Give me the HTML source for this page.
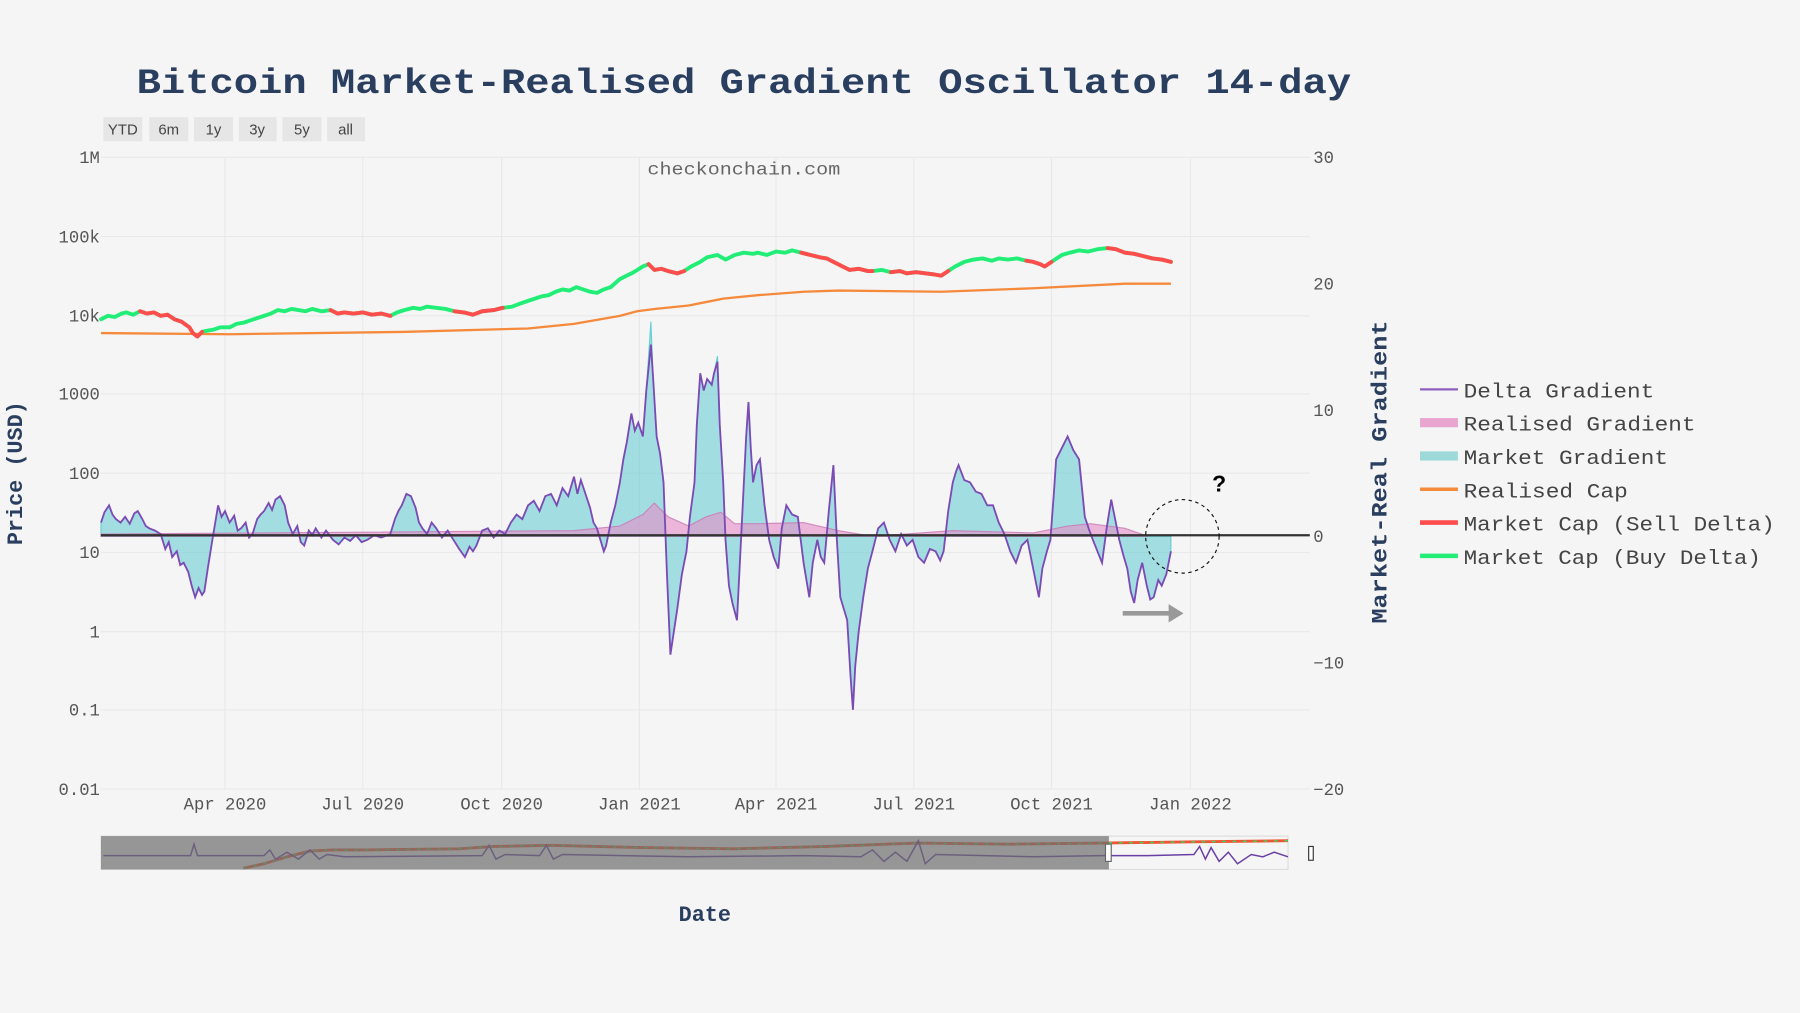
<!DOCTYPE html>
<html><head><meta charset="utf-8"><style>
html,body{margin:0;padding:0;background:#f5f5f5;overflow:hidden}
svg{display:block}
text{font-family:"Liberation Mono",monospace}
</style></head><body>
<svg width="1800" height="1013" viewBox="0 0 1568 882" preserveAspectRatio="none" xmlns="http://www.w3.org/2000/svg">
<rect width="1568" height="882" fill="#f5f5f5"/>
<g stroke="#e9e9e9" stroke-width="1">
<line x1="88" x2="1141" y1="137" y2="137"/><line x1="88" x2="1141" y1="206" y2="206"/><line x1="88" x2="1141" y1="275" y2="275"/><line x1="88" x2="1141" y1="343" y2="343"/><line x1="88" x2="1141" y1="412" y2="412"/><line x1="88" x2="1141" y1="481" y2="481"/><line x1="88" x2="1141" y1="550" y2="550"/><line x1="88" x2="1141" y1="618" y2="618"/><line x1="88" x2="1141" y1="687" y2="687"/>
<line x1="196" x2="196" y1="137" y2="687"/><line x1="316" x2="316" y1="137" y2="687"/><line x1="437" x2="437" y1="137" y2="687"/><line x1="557" x2="557" y1="137" y2="687"/><line x1="676" x2="676" y1="137" y2="687"/><line x1="796" x2="796" y1="137" y2="687"/><line x1="916" x2="916" y1="137" y2="687"/><line x1="1037" x2="1037" y1="137" y2="687"/>
</g>
<text x="648" y="81" text-anchor="middle" font-size="31" font-weight="bold" fill="#2a3f5f" textLength="1058" lengthAdjust="spacingAndGlyphs">Bitcoin Market-Realised Gradient Oscillator 14-day</text>
<g font-size="13" fill="#444">
<rect x="90" y="102" width="34" height="21" fill="#e6e6e6"/><text x="107" y="117" text-anchor="middle" style="font-family:'Liberation Sans',sans-serif">YTD</text>
<rect x="130" y="102" width="34" height="21" fill="#e6e6e6"/><text x="147" y="117" text-anchor="middle" style="font-family:'Liberation Sans',sans-serif">6m</text>
<rect x="169" y="102" width="34" height="21" fill="#e6e6e6"/><text x="186" y="117" text-anchor="middle" style="font-family:'Liberation Sans',sans-serif">1y</text>
<rect x="208" y="102" width="33" height="21" fill="#e6e6e6"/><text x="224" y="117" text-anchor="middle" style="font-family:'Liberation Sans',sans-serif">3y</text>
<rect x="246" y="102" width="34" height="21" fill="#e6e6e6"/><text x="263" y="117" text-anchor="middle" style="font-family:'Liberation Sans',sans-serif">5y</text>
<rect x="285" y="102" width="33" height="21" fill="#e6e6e6"/><text x="301" y="117" text-anchor="middle" style="font-family:'Liberation Sans',sans-serif">all</text>
</g>
<text x="648" y="152" text-anchor="middle" font-size="15" fill="#666" textLength="168" lengthAdjust="spacingAndGlyphs">checkonchain.com</text>
<g font-size="15" fill="#555" text-anchor="end">
<text x="87" y="142">1M</text><text x="87" y="211">100k</text><text x="87" y="280">10k</text><text x="87" y="348">1000</text><text x="87" y="417">100</text><text x="87" y="486">10</text><text x="87" y="555">1</text><text x="87" y="623">0.1</text><text x="87" y="692">0.01</text>
</g>
<g font-size="15" fill="#555">
<text x="1144" y="142">30</text><text x="1144" y="252">20</text><text x="1144" y="362">10</text><text x="1144" y="472">0</text><text x="1144" y="582">−10</text><text x="1144" y="692">−20</text>
</g>
<g font-size="15" fill="#555" text-anchor="middle">
<text x="196" y="705">Apr 2020</text><text x="316" y="705">Jul 2020</text><text x="437" y="705">Oct 2020</text><text x="557" y="705">Jan 2021</text><text x="676" y="705">Apr 2021</text><text x="796" y="705">Jul 2021</text><text x="916" y="705">Oct 2021</text><text x="1037" y="705">Jan 2022</text>
</g>
<path fill="rgba(80,200,205,0.5)" stroke="rgba(80,200,205,0.8)" stroke-width="1" d="M88,467 L88,455 L91,446 L95,440 L98,448 L101,452 L105,455 L109,450 L113,456 L117,447 L120,445 L124,452 L127,458 L130,460 L135,462 L140,465 L144,478 L147,472 L150,485 L154,480 L157,492 L160,490 L164,498 L167,510 L170,520 L173,512 L176,518 L178,515 L181,495 L185,470 L188,452 L190,440 L193,450 L196,445 L200,455 L204,449 L207,462 L210,460 L214,455 L217,468 L220,465 L224,452 L227,448 L230,445 L234,438 L237,444 L240,435 L244,432 L248,440 L251,455 L255,465 L259,458 L262,472 L265,475 L269,462 L272,466 L275,460 L280,468 L284,462 L290,470 L295,474 L300,468 L305,471 L310,466 L315,472 L320,470 L326,466 L332,468 L340,465 L344,452 L347,445 L350,440 L354,430 L358,432 L362,442 L365,455 L368,460 L372,465 L376,455 L380,460 L385,468 L390,462 L395,470 L400,478 L405,485 L409,476 L412,480 L415,475 L420,462 L425,460 L430,468 L435,462 L440,465 L445,455 L450,448 L455,452 L460,440 L465,436 L470,445 L475,432 L480,430 L485,440 L490,425 L495,432 L500,415 L503,430 L506,418 L510,430 L514,442 L517,455 L520,460 L523,470 L526,480 L528,475 L532,455 L536,440 L540,420 L543,400 L546,385 L550,360 L553,375 L556,368 L560,380 L563,340 L567,280 L569,330 L572,380 L575,395 L578,420 L581,500 L584,570 L587,550 L590,530 L594,500 L598,480 L601,450 L605,420 L607,370 L610,325 L613,340 L616,330 L620,335 L622,325 L625,310 L627,370 L630,420 L632,470 L635,510 L638,525 L642,540 L645,480 L648,420 L650,380 L652,350 L654,390 L656,420 L659,405 L662,400 L666,440 L670,470 L674,485 L678,495 L681,460 L685,440 L690,448 L695,450 L700,490 L705,520 L708,490 L712,470 L715,485 L718,490 L722,445 L726,405 L729,470 L732,520 L735,530 L738,540 L741,590 L743,618 L745,580 L748,550 L752,520 L756,495 L760,480 L765,460 L770,455 L775,470 L780,480 L785,465 L790,475 L795,470 L800,485 L805,490 L810,478 L815,480 L819,488 L822,480 L826,445 L830,420 L833,410 L835,405 L840,418 L845,420 L850,428 L855,430 L860,440 L865,440 L870,455 L875,465 L880,480 L885,490 L890,475 L895,470 L900,495 L903,510 L905,520 L908,495 L912,480 L915,470 L918,430 L920,400 L925,390 L930,380 L935,392 L940,400 L943,430 L945,450 L949,462 L952,470 L956,480 L960,490 L964,460 L968,435 L972,455 L975,470 L979,485 L982,495 L985,515 L988,525 L991,505 L995,490 L999,510 L1002,522 L1005,520 L1009,505 L1012,510 L1016,500 L1020,480 L1020,467 Z"/>
<path fill="rgba(230,140,200,0.6)" stroke="rgba(200,120,180,0.8)" stroke-width="1" d="M88,467 L88,465 L500,462 L540,458 L560,448 L570,438 L582,450 L600,458 L615,450 L628,446 L640,456 L660,456 L700,455 L730,462 L760,467 L830,462 L900,464 L930,458 L950,456 L980,460 L1000,467 Z"/>
<path fill="none" stroke="#7a4bb5" stroke-width="1.6" d="M88,455 L91,446 L95,440 L98,448 L101,452 L105,455 L109,450 L113,456 L117,447 L120,445 L124,452 L127,458 L130,460 L135,462 L140,465 L144,478 L147,472 L150,485 L154,480 L157,492 L160,490 L164,498 L167,510 L170,520 L173,512 L176,518 L178,515 L181,495 L185,470 L188,452 L190,440 L193,450 L196,445 L200,455 L204,449 L207,462 L210,460 L214,455 L217,468 L220,465 L224,452 L227,448 L230,445 L234,438 L237,444 L240,435 L244,432 L248,440 L251,455 L255,465 L259,458 L262,472 L265,475 L269,462 L272,466 L275,460 L280,468 L284,462 L290,470 L295,474 L300,468 L305,471 L310,466 L315,472 L320,470 L326,466 L332,468 L340,465 L344,452 L347,445 L350,440 L354,430 L358,432 L362,442 L365,455 L368,460 L372,465 L376,455 L380,460 L385,468 L390,462 L395,470 L400,478 L405,485 L409,476 L412,480 L415,475 L420,462 L425,460 L430,468 L435,462 L440,465 L445,455 L450,448 L455,452 L460,440 L465,436 L470,445 L475,432 L480,430 L485,440 L490,425 L495,432 L500,415 L503,430 L506,418 L510,430 L514,442 L517,455 L520,460 L523,470 L526,480 L528,475 L532,455 L536,440 L540,420 L543,400 L546,385 L550,360 L553,375 L556,368 L560,380 L563,340 L567,300 L569,330 L572,380 L575,395 L578,420 L581,500 L584,570 L587,550 L590,530 L594,500 L598,480 L601,450 L605,420 L607,370 L610,325 L613,340 L616,330 L620,335 L622,325 L625,315 L627,370 L630,420 L632,470 L635,510 L638,525 L642,540 L645,480 L648,420 L650,380 L652,350 L654,390 L656,420 L659,405 L662,400 L666,440 L670,470 L674,485 L678,495 L681,460 L685,440 L690,448 L695,450 L700,490 L705,520 L708,490 L712,470 L715,485 L718,490 L722,445 L726,405 L729,470 L732,520 L735,530 L738,540 L741,590 L743,618 L745,580 L748,550 L752,520 L756,495 L760,480 L765,460 L770,455 L775,470 L780,480 L785,465 L790,475 L795,470 L800,485 L805,490 L810,478 L815,480 L819,488 L822,480 L826,445 L830,420 L833,410 L835,405 L840,418 L845,420 L850,428 L855,430 L860,440 L865,440 L870,455 L875,465 L880,480 L885,490 L890,475 L895,470 L900,495 L903,510 L905,520 L908,495 L912,480 L915,470 L918,430 L920,400 L925,390 L930,380 L935,392 L940,400 L943,430 L945,450 L949,462 L952,470 L956,480 L960,490 L964,460 L968,435 L972,455 L975,470 L979,485 L982,495 L985,515 L988,525 L991,505 L995,490 L999,510 L1002,522 L1005,520 L1009,505 L1012,510 L1016,500 L1020,480"/>
<path fill="none" stroke="#f58a3c" stroke-width="2" d="M88,290 L200,291 L350,289 L460,286 L500,282 L540,275 L555,271 L570,269 L600,266 L615,263 L630,260 L660,257 L700,254 L730,253 L820,254 L900,251 L980,247 L1020,247"/>
<g fill="none" stroke-width="3.4" stroke-linejoin="round" stroke-linecap="round">
<path stroke="#22ee77" d="M88,278 L94,275 L100,276 L106,273 L110,272 L116,274 L122,271 L128,273 L134,272 L140,275 L146,274 L152,278 L158,280 L165,285 L168,290 L172,293 L176,289 L180,288 L186,287 L192,285 L200,285 L206,282 L212,281 L218,279 L224,277 L230,275 L236,273 L242,270 L248,271 L254,269 L260,270 L266,271 L272,269 L280,271 L288,270 L294,273 L300,272 L308,273 L316,272 L324,274 L332,273 L340,275 L346,272 L352,270 L360,268 L366,269 L372,267 L380,268 L388,269 L396,271 L404,272 L412,274 L420,271 L430,270 L438,268 L446,267 L454,264 L460,262 L466,260 L472,258 L478,257 L484,254 L490,252 L496,253 L502,250 L508,252 L514,254 L520,255 L526,252 L532,250 L540,243 L546,240 L552,237 L560,232 L565,230 L570,235 L576,234 L582,236 L590,238 L596,236 L602,232 L610,228 L616,224 L625,222 L632,226 L640,222 L648,220 L656,221 L660,220 L668,222 L676,219 L684,220 L690,218 L698,220 L706,222 L714,224 L720,225 L728,229 L734,232 L740,235 L748,234 L756,236 L760,236 L768,235 L776,237 L784,236 L790,238 L798,237 L806,238 L814,239 L820,240 L826,236 L832,232 L840,228 L848,226 L856,225 L864,227 L870,225 L878,226 L886,225 L894,227 L900,228 L906,230 L910,232 L916,228 L925,222 L932,220 L940,218 L948,219 L956,217 L965,216 L972,217 L980,220 L988,221 L996,223 L1004,225 L1012,226 L1020,228"/>
<path stroke="#ff4d4d" d="M122,271 L128,273 L134,272 L140,275 L146,274 L152,278 L158,280 L165,285 L168,290 L172,293 L176,289"/>
<path stroke="#ff4d4d" d="M288,270 L294,273 L300,272 L308,273 L316,272 L324,274 L332,273 L340,275"/>
<path stroke="#ff4d4d" d="M396,271 L404,272 L412,274 L420,271 L430,270 L438,268"/>
<path stroke="#ff4d4d" d="M565,230 L570,235 L576,234 L582,236 L590,238 L596,236"/>
<path stroke="#ff4d4d" d="M698,220 L706,222 L714,224 L720,225 L728,229 L734,232 L740,235 L748,234 L756,236 L760,236"/>
<path stroke="#ff4d4d" d="M776,237 L784,236 L790,238 L798,237 L806,238 L814,239 L820,240 L826,236"/>
<path stroke="#ff4d4d" d="M894,227 L900,228 L906,230 L910,232 L916,228"/>
<path stroke="#ff4d4d" d="M965,216 L972,217 L980,220 L988,221 L996,223 L1004,225 L1012,226 L1020,228"/>
</g>
<line x1="88" y1="466" x2="1141" y2="466" stroke="#333" stroke-width="2"/>
<circle cx="1030" cy="467" r="32" fill="none" stroke="#111" stroke-dasharray="3,3"/>
<text x="1062" y="428" text-anchor="middle" font-size="20" font-weight="bold" fill="#000" style="font-family:'Liberation Sans',sans-serif">?</text>
<line x1="978" y1="534" x2="1020" y2="534" stroke="#999" stroke-width="4"/>
<polygon points="1018,526 1031,534 1018,542" fill="#999"/>
<rect x="88" y="728" width="1034" height="29" fill="#f5f5f5" stroke="#ddd"/>
<path fill="none" stroke="#ee5533" stroke-width="2.5" d="M212,756 L230,752 L250,746 L270,741 L290,740 L320,740 L400,739 L430,737 L480,736 L560,738 L640,739 L720,737 L800,734 L880,735 L960,734 L1040,733 L1122,732"/>
<path fill="none" stroke="#33dd66" stroke-width="1.2" stroke-dasharray="3,6" d="M212,756 L230,752 L250,746 L270,741 L290,740 L320,740 L400,739 L430,737 L480,736 L560,738 L640,739 L720,737 L800,734 L880,735 L960,734 L1040,733 L1122,732"/>
<path fill="none" stroke="#6a3fa5" stroke-width="1.3" d="M90,745 L166,745 L169,735 L172,745 L230,745 L235,740 L240,748 L250,742 L260,748 L270,740 L278,748 L285,744 L300,746 L420,745 L426,736 L432,748 L440,744 L470,745 L476,736 L482,748 L490,744 L600,746 L700,745 L750,746 L760,740 L770,750 L780,742 L790,750 L800,732 L806,752 L815,744 L900,746 L960,745 L1000,745 L1040,744 L1045,737 L1050,748 L1055,738 L1062,750 L1070,742 L1078,752 L1090,744 L1100,746 L1110,742 L1122,746"/>
<rect x="88" y="728" width="878" height="29" fill="rgba(110,110,110,0.7)"/>
<rect x="963" y="735" width="5" height="15" fill="#fff" stroke="#666"/>
<rect x="1140" y="737" width="4" height="12" fill="#fff" stroke="#333"/>
<text x="614" y="802" text-anchor="middle" font-size="19" font-weight="bold" fill="#2a3f5f">Date</text>
<text transform="translate(19,412) rotate(-90)" text-anchor="middle" font-size="19" font-weight="bold" fill="#2a3f5f">Price (USD)</text>
<text transform="translate(1208,411) rotate(-90)" text-anchor="middle" font-size="19" font-weight="bold" fill="#2a3f5f" textLength="264" lengthAdjust="spacingAndGlyphs">Market-Real Gradient</text>
<g font-size="18" fill="#444">
<line x1="1237" y1="339" x2="1270" y2="339" stroke="#8e5fbf" stroke-width="2"/><text x="1275" y="346" textLength="166" lengthAdjust="spacingAndGlyphs">Delta Gradient</text>
<rect x="1237" y="364" width="33" height="8" fill="#e7a5cf"/><text x="1275" y="375" textLength="202" lengthAdjust="spacingAndGlyphs">Realised Gradient</text>
<rect x="1237" y="393" width="33" height="8" fill="#9ed9d9"/><text x="1275" y="404" textLength="178" lengthAdjust="spacingAndGlyphs">Market Gradient</text>
<line x1="1237" y1="426" x2="1270" y2="426" stroke="#f58a3c" stroke-width="3"/><text x="1275" y="433" textLength="143" lengthAdjust="spacingAndGlyphs">Realised Cap</text>
<line x1="1237" y1="455" x2="1270" y2="455" stroke="#ff4d4d" stroke-width="4"/><text x="1275" y="462" textLength="271" lengthAdjust="spacingAndGlyphs">Market Cap (Sell Delta)</text>
<line x1="1237" y1="484" x2="1270" y2="484" stroke="#22ee77" stroke-width="4"/><text x="1275" y="491" textLength="259" lengthAdjust="spacingAndGlyphs">Market Cap (Buy Delta)</text>
</g>
</svg>
</body></html>
